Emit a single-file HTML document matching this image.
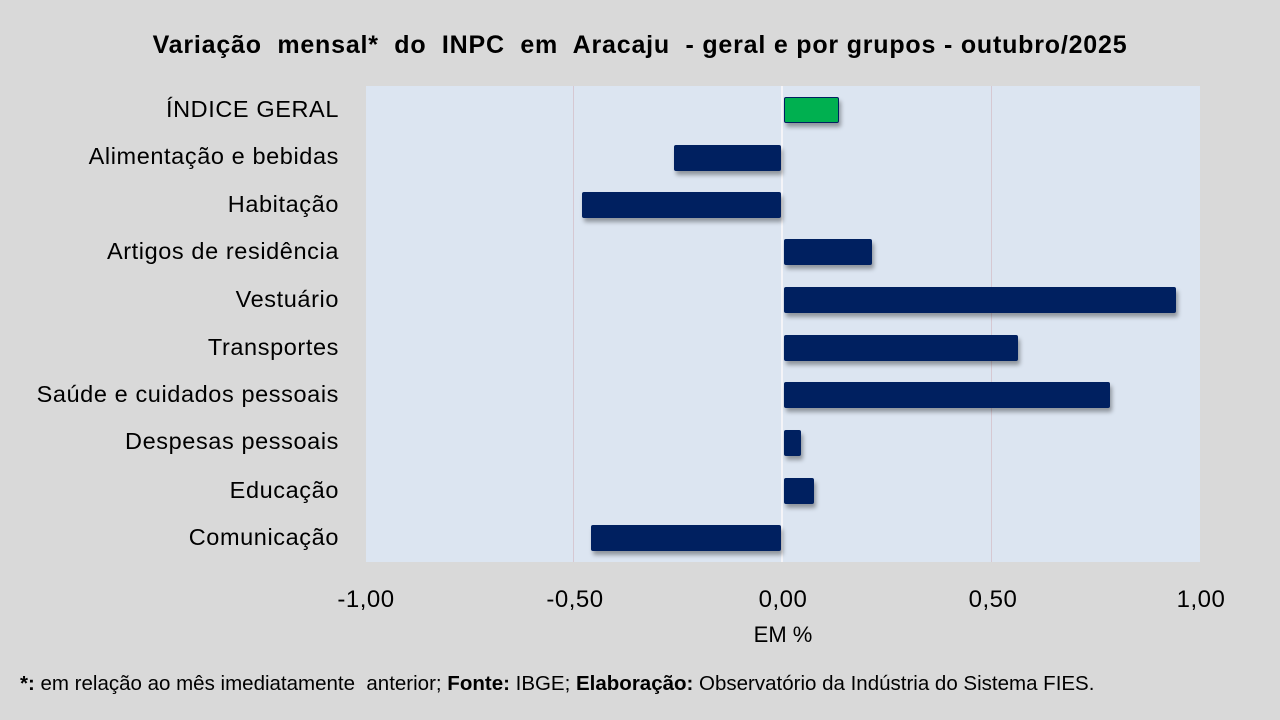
<!DOCTYPE html>
<html><head><meta charset="utf-8"><style>
body{margin:0;width:1280px;height:720px;background:#d9d9d9;position:relative;overflow:hidden;font-family:"Liberation Sans",sans-serif;color:#000}
.t{position:absolute;white-space:nowrap}
.plot{position:absolute;left:366px;top:86px;width:834px;height:476px;background:#dce5f1}
.g{position:absolute;top:86px;height:476px;width:1px;background:#d6c8d2}
.bar{position:absolute;height:26px;background:#002060;box-shadow:2px 4px 4px rgba(0,0,0,0.35);border-radius:2px}
.lab{position:absolute;right:941px;font-size:23.5px;text-align:right;white-space:nowrap;letter-spacing:0.6px}
.tick{position:absolute;top:586px;font-size:24px;width:120px;text-align:center;letter-spacing:0.5px}
</style></head><body>
<div class="t" style="left:0;width:1280px;text-align:center;top:31px;font-size:25px;font-weight:bold;letter-spacing:0.8px">Variação&nbsp; mensal*&nbsp; do&nbsp; INPC&nbsp; em&nbsp; Aracaju&nbsp; - geral e por grupos - outubro/2025</div>
<div class="plot"></div>
<div class="g" style="left:573px"></div>
<div class="g" style="left:991px"></div>
<div class="g" style="left:781px;width:2px;background:#f4f4f8"></div>
<div class="bar" style="left:784px;width:53px;top:97px;background:#00b050;border:1px solid #002060;height:24px"></div>
<div class="bar" style="left:674px;width:107px;top:145px"></div>
<div class="bar" style="left:582px;width:199px;top:192px"></div>
<div class="bar" style="left:784px;width:88px;top:239px"></div>
<div class="bar" style="left:784px;width:392px;top:287px"></div>
<div class="bar" style="left:784px;width:234px;top:335px"></div>
<div class="bar" style="left:784px;width:326px;top:382px"></div>
<div class="bar" style="left:784px;width:17px;top:430px"></div>
<div class="bar" style="left:784px;width:30px;top:478px"></div>
<div class="bar" style="left:591px;width:190px;top:525px"></div>
<div class="lab" style="top:96px">ÍNDICE GERAL</div>
<div class="lab" style="top:143px">Alimentação e bebidas</div>
<div class="lab" style="top:191px">Habitação</div>
<div class="lab" style="top:238px">Artigos de residência</div>
<div class="lab" style="top:286px">Vestuário</div>
<div class="lab" style="top:334px">Transportes</div>
<div class="lab" style="top:381px">Saúde e cuidados pessoais</div>
<div class="lab" style="top:428px">Despesas pessoais</div>
<div class="lab" style="top:477px">Educação</div>
<div class="lab" style="top:524px">Comunicação</div>
<div class="tick" style="left:306px">-1,00</div>
<div class="tick" style="left:515px">-0,50</div>
<div class="tick" style="left:723px">0,00</div>
<div class="tick" style="left:933px">0,50</div>
<div class="tick" style="left:1141px">1,00</div>
<div class="t" style="left:723px;width:120px;text-align:center;top:622px;font-size:22px">EM %</div>
<div class="t" style="left:20px;top:672px;font-size:20.5px"><b>*:</b> em relação ao mês imediatamente&nbsp; anterior; <b>Fonte:</b> IBGE; <b>Elaboração:</b> Observatório da Indústria do Sistema FIES.</div>
</body></html>
